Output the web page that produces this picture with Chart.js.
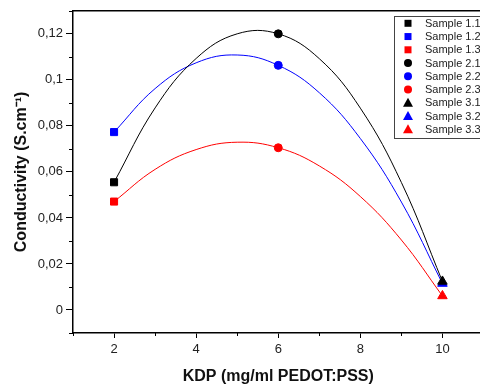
<!DOCTYPE html>
<html>
<head>
<meta charset="utf-8">
<script src="https://cdn.jsdelivr.net/npm/chart.js@4/dist/chart.umd.min.js"></script>
<style>
html, body { margin: 0; padding: 0; background: #fff; overflow: hidden; }
#wrap { width: 490px; height: 387px; }
</style>
</head>
<body>
<div id="wrap"><canvas id="condChart" width="490" height="387"></canvas></div>
<script>
// KDP concentrations where samples were measured
const kdp = [2, 6, 10];
// measured conductivity, one array per colour (black = x.1, blue = x.2, red = x.3)
const blackSamples = [0.0555, 0.12, 0.0124];
const blueSamples = [0.0773, 0.1063, 0.0115];
const redSamples = [0.0471, 0.0705, 0.0061];
// fitted curves
const curveX = [2, 3, 4, 5, 6, 7, 8, 9, 10];
const blackCurve = [0.0555, 0.0878, 0.1093, 0.1200, 0.12, 0.1092, 0.0877, 0.0554, 0.0124];
const blueCurve = [0.0773, 0.0962, 0.1074, 0.1108, 0.1063, 0.0944, 0.0745, 0.0469, 0.0115];
const redCurve = [0.0471, 0.0611, 0.0697, 0.0729, 0.0705, 0.0626, 0.0493, 0.0304, 0.0061];
const xTickLabels = [2, 4, 6, 8, 10];
const yTickLabels = [0, 0.02, 0.04, 0.06, 0.08, 0.1, 0.12];

const colors = ['#000000', '#0000ff', '#ff0000'];
const markers = ['rect', 'circle', 'triangle'];
const markerRadius = { rect: 5, circle: 4, triangle: 5.5 };
const sampleSets = [blackSamples, blueSamples, redSamples];
const curves = [blackCurve, blueCurve, redCurve];

Chart.defaults.font.family = "'Liberation Sans', Arial, sans-serif";

const datasets = [];
kdp.forEach((k, g) => {
  sampleSets.forEach((vals, c) => {
    datasets.push({
      label: 'Sample ' + (g + 1) + '.' + (c + 1),
      data: [{ x: k, y: vals[g] }],
      pointStyle: markers[g],
      pointRadius: markerRadius[markers[g]],
      backgroundColor: colors[c],
      borderColor: colors[c],
      borderWidth: 1,
      isMarker: true
    });
  });
});
curves.forEach((cv, c) => {
  datasets.push({
    label: 'fit' + c,
    data: curveX.map((x, i) => ({ x: x, y: cv[i] })),
    showLine: true,
    tension: 0.4,
    pointRadius: 0,
    borderColor: colors[c],
    borderWidth: 1
  });
});

const isMajorY = v => yTickLabels.some(t => Math.abs(t - v) < 1e-6);
const isMajorX = v => xTickLabels.includes(Math.round(v * 1000) / 1000);

const framePlugin = {
  id: 'frame',
  afterDraw(chart) {
    const { ctx, chartArea: a, scales } = chart;
    ctx.save();
    ctx.strokeStyle = '#000';
    ctx.lineWidth = 1.5;
    ctx.beginPath();
    ctx.moveTo(a.left, a.top);
    ctx.lineTo(a.right, a.top);
    ctx.stroke();
    // minor ticks
    ctx.lineWidth = 1;
    ctx.beginPath();
    scales.y.ticks.forEach(t => {
      if (isMajorY(t.value)) return;
      const y = Math.round(scales.y.getPixelForValue(t.value)) + 0.5;
      ctx.moveTo(a.left - 4, y);
      ctx.lineTo(a.left, y);
    });
    scales.x.ticks.forEach(t => {
      if (isMajorX(t.value)) return;
      const x = Math.round(scales.x.getPixelForValue(t.value)) + 0.5;
      ctx.moveTo(x, a.bottom);
      ctx.lineTo(x, a.bottom + 3);
    });
    ctx.stroke();

    // legend
    const bx = 394, by = 16, rowH = 13.25;
    ctx.strokeStyle = '#444';
    ctx.lineWidth = 1;
    ctx.fillStyle = '#fff';
    ctx.fillRect(bx, by, 100, 122);
    ctx.strokeRect(bx + 0.5, by + 0.5, 100, 122);
    ctx.font = "11px 'Liberation Sans', Arial, sans-serif";
    ctx.textBaseline = 'middle';
    chart.data.datasets.filter(d => d.isMarker).forEach((d, i) => {
      const y = by + 7.3 + i * rowH;
      const x = 408;
      ctx.fillStyle = d.backgroundColor;
      ctx.beginPath();
      if (d.pointStyle === 'rect') {
        ctx.rect(x - 3.5, y - 3.5, 7, 7);
      } else if (d.pointStyle === 'circle') {
        ctx.arc(x, y, 4, 0, Math.PI * 2);
      } else {
        ctx.moveTo(x, y - 5);
        ctx.lineTo(x + 5, y + 4);
        ctx.lineTo(x - 5, y + 4);
        ctx.closePath();
      }
      ctx.fill();
      ctx.fillStyle = '#222';
      ctx.fillText(d.label, 425, y + 0.5);
    });
    ctx.restore();
  }
};

new Chart(document.getElementById('condChart').getContext('2d'), {
  type: 'scatter',
  data: { datasets: datasets },
  options: {
    responsive: false,
    animation: false,
    devicePixelRatio: 1,
    events: [],
    layout: { padding: { top: 8, right: 1, bottom: 0, left: 0 } },
    plugins: { legend: { display: false }, tooltip: { enabled: false } },
    scales: {
      x: {
        type: 'linear',
        min: 1,
        max: 11,
        afterFit: s => { s.height = 54; },
        ticks: {
          stepSize: 1,
          autoSkip: false,
          maxRotation: 0,
          padding: 4,
          color: '#222',
          font: { size: 13 },
          callback: v => isMajorX(v) ? String(v) : ''
        },
        grid: {
          drawOnChartArea: false,
          tickLength: 5,
          tickWidth: 1,
          tickColor: c => isMajorX(c.tick.value) ? '#000' : 'rgba(0,0,0,0)'
        },
        border: { display: true, color: '#000', width: 1.5 },
        title: {
          display: true,
          text: 'KDP (mg/ml PEDOT:PSS)',
          color: '#111',
          font: { size: 16, weight: 'bold' },
          padding: { top: 0, bottom: 1 }
        }
      },
      y: {
        type: 'linear',
        min: -0.01,
        max: 0.13,
        afterFit: s => { s.width = 73; },
        ticks: {
          stepSize: 0.01,
          autoSkip: false,
          padding: 3,
          color: '#222',
          font: { size: 13 },
          callback: v => isMajorY(v) ? String(Math.round(v * 100) / 100).replace('.', ',') : ''
        },
        grid: {
          drawOnChartArea: false,
          tickLength: 7,
          tickWidth: 1,
          tickColor: c => isMajorY(c.tick.value) ? '#000' : 'rgba(0,0,0,0)'
        },
        border: { display: true, color: '#000', width: 1.5 },
        title: {
          display: true,
          text: 'Conductivity (S.cm\u207B\u00B9)',
          color: '#111',
          font: { size: 16, weight: 'bold' },
          padding: { top: 12, bottom: 0 }
        }
      }
    }
  },
  plugins: [framePlugin]
});
</script>
</body>
</html>
